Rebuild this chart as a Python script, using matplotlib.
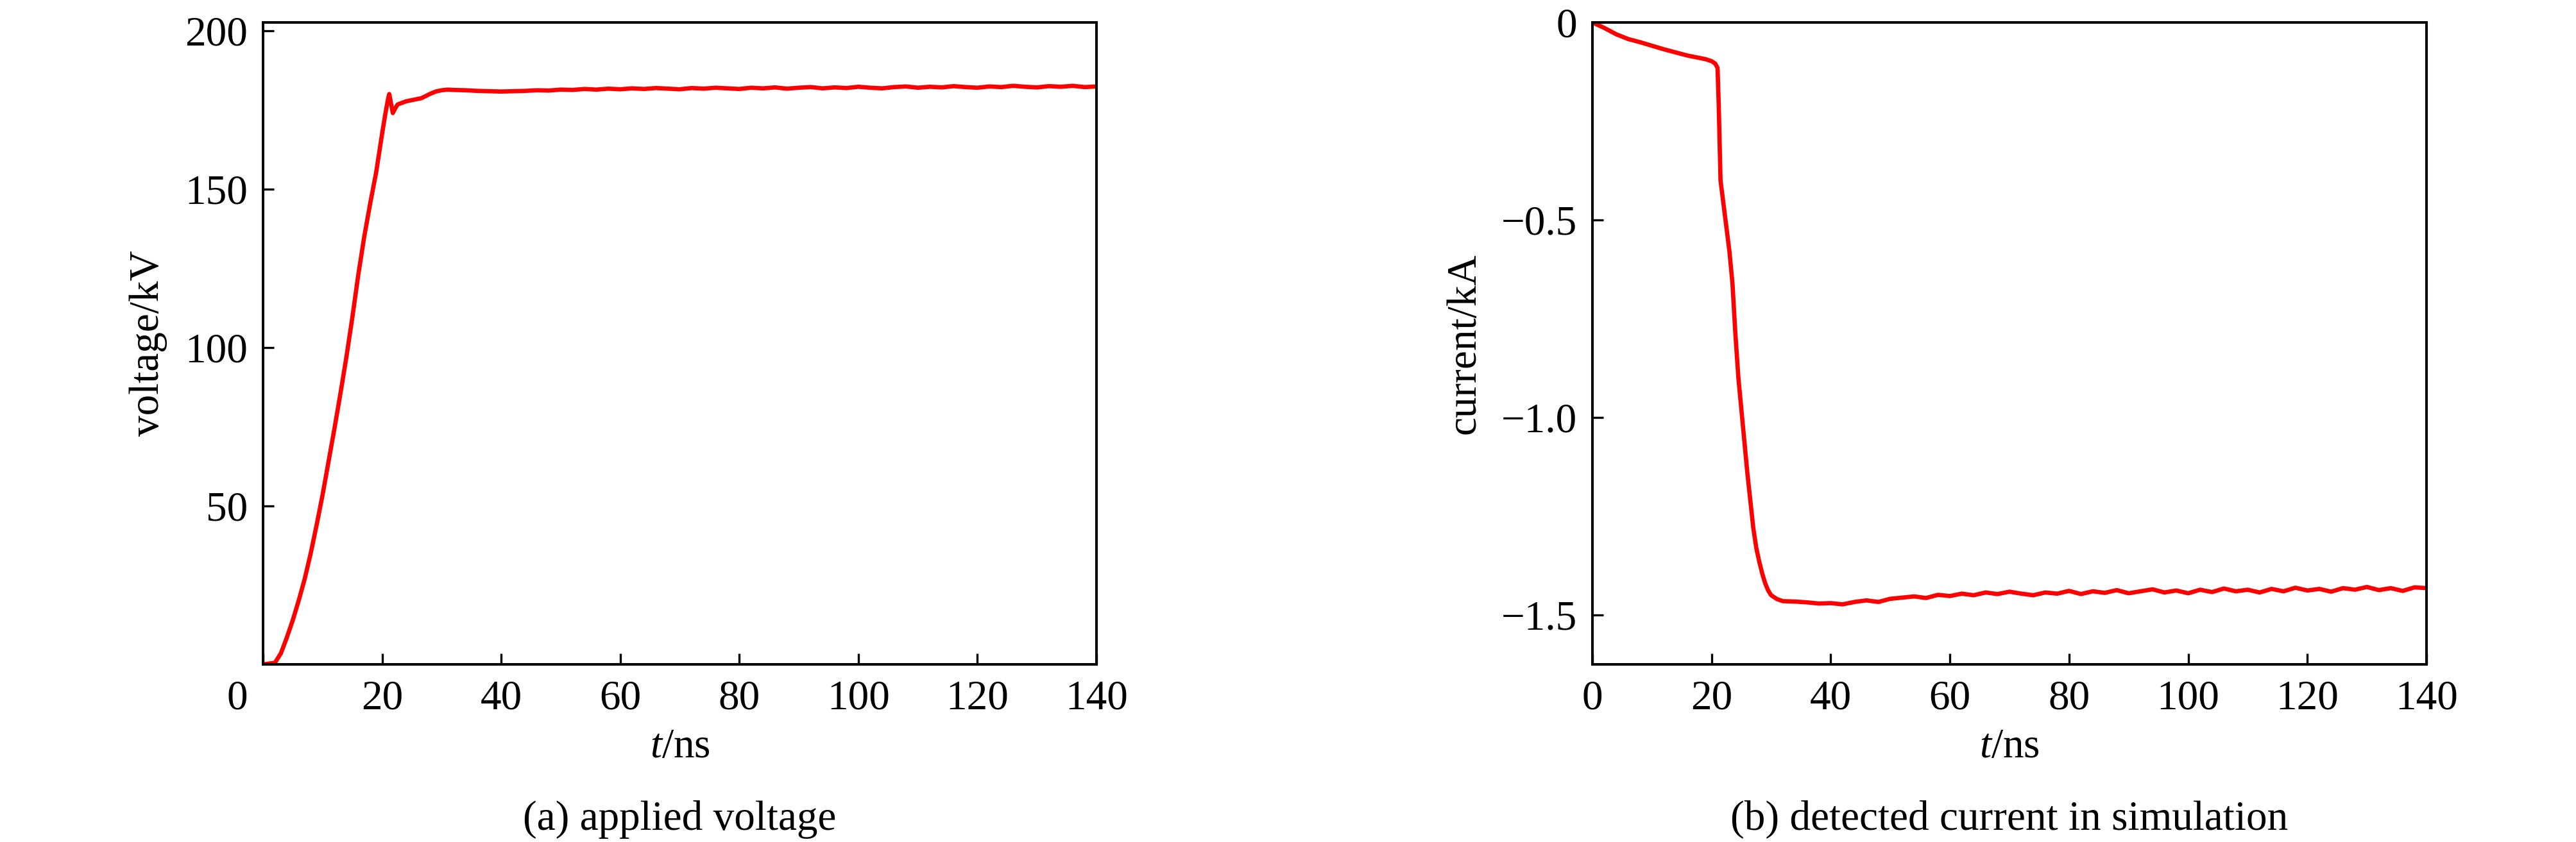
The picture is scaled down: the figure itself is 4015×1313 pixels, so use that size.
import matplotlib
matplotlib.use("Agg")
import matplotlib.pyplot as plt
import matplotlib.transforms as mtransforms

plt.rcParams['font.family'] = ['Liberation Serif', 'DejaVu Serif']
plt.rcParams['mathtext.fontset'] = 'custom'
plt.rcParams['mathtext.rm'] = 'Liberation Serif'
plt.rcParams['mathtext.it'] = 'Liberation Serif:italic'
plt.rcParams['axes.unicode_minus'] = True

# (a) tensão aplicada, kV
t_rise = [0, 2, 3, 4, 5, 6, 7, 8, 9, 10, 11, 12, 13, 14, 15, 16, 17, 18, 19, 20,
          20.5, 21.0, 21.2, 21.5, 21.8, 22.2, 22.6, 24, 26.6, 28, 29, 30, 31, 32]
v_rise = [0, 0.5, 3.5, 8.5, 14, 20.2, 27, 35, 44, 53.5, 64, 74.5, 85.5, 97, 109.5, 123,
          135, 145.5, 155.3, 167.5, 173.3, 178.5, 180, 177, 174, 175.5, 176.7, 177.7,
          178.7, 180, 180.8, 181.2, 181.4, 181.3]
t_plat = list(range(34, 141, 2))
v_plat = [181.2, 181.0, 180.9, 180.8, 180.9, 181.0, 181.2, 181.1, 181.4, 181.3,
          181.6, 181.4, 181.7, 181.5, 181.8, 181.6, 181.9, 181.7, 181.5, 181.9,
          181.7, 182.0, 181.8, 181.6, 182.0, 181.8, 182.1, 181.7, 182.0, 182.2,
          181.8, 182.1, 181.9, 182.3, 182.0, 181.8, 182.2, 182.4, 182.0, 182.3,
          182.1, 182.5, 182.2, 182.0, 182.4, 182.2, 182.6, 182.3, 182.1, 182.5,
          182.3, 182.6, 182.2, 182.4]

# (b) corrente detectada, kA
t_drop = [0, 2, 4, 6, 8, 10, 12, 14, 16, 18, 19, 20, 20.6, 21.0, 21.2, 21.5, 22.0, 22.5,
          23.0, 23.5, 24.0, 24.5, 25.0, 25.5, 26.0, 26.5, 27.0, 27.5, 28.0, 28.5, 29.0,
          29.5, 30.0, 31, 32]
i_drop = [0, -0.014, -0.03, -0.042, -0.05, -0.059, -0.068, -0.076, -0.084, -0.09, -0.093,
          -0.098, -0.104, -0.115, -0.21, -0.40, -0.46, -0.52, -0.58, -0.66, -0.79, -0.90,
          -0.98, -1.06, -1.14, -1.21, -1.28, -1.33, -1.365, -1.395, -1.42, -1.438, -1.45,
          -1.46, -1.465]
t_plat_i = list(range(34, 141, 2))
i_plat = [-1.466, -1.468, -1.471, -1.470, -1.473, -1.467, -1.463, -1.467, -1.459, -1.456,
          -1.453, -1.457, -1.449, -1.452, -1.446, -1.450, -1.443, -1.447, -1.441, -1.446,
          -1.450, -1.443, -1.446, -1.439, -1.447, -1.440, -1.444, -1.437, -1.445, -1.440,
          -1.435, -1.443, -1.438, -1.445, -1.436, -1.442, -1.433, -1.440, -1.436, -1.443,
          -1.434, -1.440, -1.431, -1.438, -1.434, -1.441, -1.432, -1.436, -1.429, -1.437,
          -1.432, -1.439, -1.430, -1.432]

x_ticks = [0, 20, 40, 60, 80, 100, 120, 140]
v_ticks = [50, 100, 150, 200]
i_ticks = [0, -0.5, -1.0, -1.5]
i_ticklabels = ['0', '\u22120.5', '\u22121.0', '\u22121.5']

FS = 47
W, H = 4016, 1313
fig = plt.figure(figsize=(W / 100, H / 100), dpi=100)

ax1 = fig.add_axes([410 / W, (H - 1036) / H, 1299 / W, 1001 / H])
ax2 = fig.add_axes([2482 / W, (H - 1036) / H, 1300 / W, 1001 / H])

def estilo(ax):
    for s in ax.spines.values():
        s.set_linewidth(2.9)
    ax.tick_params(direction='in', length=12, width=2.4, labelsize=FS, pad=17,
                   top=False, right=False)
    ax.set_xlim(0, 140)
    ax.set_xticks(x_ticks)
    ax.set_xlabel(r'$t$/ns', fontsize=FS, labelpad=12)

ax1.plot(t_rise + t_plat, v_rise + v_plat, color='#ff0000', lw=4.8)
estilo(ax1)
ax1.set_ylim(0, 202.6)
ax1.set_yticks(v_ticks)
ax1.set_ylabel('voltage/kV', fontsize=FS, labelpad=20)
# rótulo "0" deslocado para a esquerda como no original
desloc = mtransforms.ScaledTranslation(-0.40, 0, fig.dpi_scale_trans)
lbl0 = ax1.get_xticklabels()[0]
lbl0.set_transform(lbl0.get_transform() + desloc)

ax2.plot(t_drop + t_plat_i, i_drop + i_plat, color='#ff0000', lw=4.8)
estilo(ax2)
ax2.set_ylim(-1.625, 0)
ax2.set_yticks(i_ticks)
ax2.set_yticklabels(i_ticklabels)
ax2.set_ylabel('current/kA', fontsize=FS, labelpad=20)

fig.text((410 + 1709) / 2 / W, (H - 1278) / H, '(a) applied voltage',
         fontsize=FS, ha='center', va='center')
fig.text((2482 + 3782) / 2 / W, (H - 1278) / H, '(b) detected current in simulation',
         fontsize=FS, ha='center', va='center')

fig.savefig('out.png', dpi=100)
